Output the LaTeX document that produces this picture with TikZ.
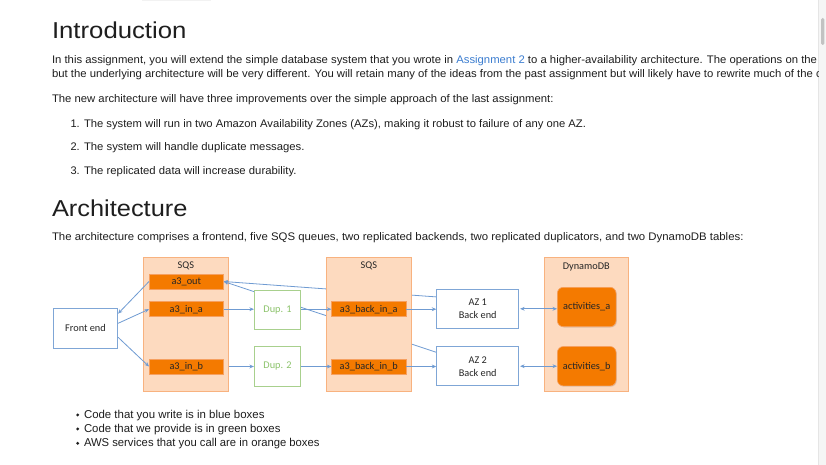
\documentclass[tikz,border=0pt]{standalone}
\usepackage{fontspec}
\setmainfont{Liberation Sans}
\newfontfamily\diagfont{Carlito}
\usetikzlibrary{arrows.meta,shadows}
\definecolor{linkblue}{HTML}{3B7DD0}
\definecolor{lineblue}{HTML}{6F9BD2}
\definecolor{boxblue}{HTML}{7FA6D6}
\definecolor{sqsfill}{HTML}{FDDABF}
\definecolor{sqsdraw}{HTML}{F8B27F}
\definecolor{qfill}{HTML}{F47A00}
\definecolor{qdraw}{HTML}{F6A060}
\definecolor{dupgreen}{HTML}{A8D08D}
\definecolor{duptext}{HTML}{8CC36B}
\definecolor{bodytext}{HTML}{1E1E1E}
\definecolor{diagtext}{HTML}{262626}
\newcommand{\fitline}[2]{\resizebox{#1pt}{\height}{#2}}
\newcommand{\bodyfnt}{\fontsize{11}{13}\selectfont}
\newcommand{\headfnt}{\fontsize{23}{26}\selectfont}
\newcommand{\bulfnt}{\fontsize{11.4}{13}\selectfont}
\newcommand{\dfnt}{\diagfont\fontsize{10.3}{13}\selectfont}
\pgfdeclarelayer{lzero}
\pgfdeclarelayer{lone}
\pgfsetlayers{lzero,lone,main}
\begin{document}
\begin{tikzpicture}[x=1pt,y=-1pt,
  txt/.style={anchor=base west, inner sep=0pt, outer sep=0pt, text=bodytext},
  container/.style={draw=sqsdraw, fill=sqsfill, line width=0.8pt, minimum width=84pt, minimum height=133.7pt, inner sep=0pt},
  clabel/.style={font=\dfnt, text=diagtext, inner sep=0pt},
  queue/.style={draw=qdraw, fill=qfill, line width=0.6pt, minimum width=74pt, minimum height=15pt, inner sep=0pt, font=\dfnt, text=diagtext},
  bluebox/.style={draw=boxblue, fill=white, line width=0.8pt, inner sep=0pt, font=\dfnt, text=diagtext, align=center},
  greenbox/.style={draw=dupgreen, fill=white, line width=0.8pt, inner sep=0pt, minimum width=46.4pt, minimum height=39.3pt, font=\dfnt, text=duptext},
  table/.style={draw=qdraw, fill=qfill, line width=0.6pt, rounded corners=6pt, minimum width=58.7pt, minimum height=39.4pt, inner sep=0pt, font=\dfnt, text=diagtext, drop shadow={shadow xshift=0.8pt, shadow yshift=-0.8pt, opacity=0.25}},
  conn/.style={draw=lineblue, line width=0.8pt},
  arr/.style={conn, -{Stealth[length=4.5pt,width=3.8pt]}},
  darr/.style={conn, {Stealth[length=4.5pt,width=3.8pt]}-{Stealth[length=4.5pt,width=3.8pt]}}
]
\useasboundingbox (0,0) rectangle (826,465);
\begin{pgfonlayer}{lzero}
\fill[white] (0,0) rectangle (826,465);
\end{pgfonlayer}

% scrollbar and top bar
\fill[black!4] (818,0) rectangle (826,465);
\draw[black!10, line width=0.5pt] (818,0) -- (818,465);
\fill[black!24, rounded corners=1.5pt] (821,18) rectangle (824.3,45);
\fill[black!5] (142,0) rectangle (211,1.3);

% text
\begin{scope}
\clip (0,0) rectangle (818,465);
\node[txt] (h1) at (52,38.3) {\fitline{134.5}{\headfnt Introduction}};
\node[txt] (p1) at (52,63.8) {\fitline{765}{\bodyfnt In this assignment, you will extend the simple database system that you wrote in \textcolor{linkblue}{Assignment 2} to a higher-availability architecture. The operations on the}};
\node[txt] (p2) at (52,77.5) {\fitline{761}{\bodyfnt but the underlying architecture will be very different. You will retain many of the ideas from the past assignment but will likely have to rewrite much of the}\bodyfnt\ code};
\node[txt] (p3) at (52,102.5) {\fitline{501.5}{\bodyfnt The new architecture will have three improvements over the simple approach of the last assignment:}};
\node[txt] (n1) at (70.5,127.3) {\bodyfnt 1.};
\node[txt] (i1) at (84,127.3) {\fitline{502}{\bodyfnt The system will run in two Amazon Availability Zones (AZs), making it robust to failure of any one AZ.}};
\node[txt] (n2) at (70.5,150.7) {\bodyfnt 2.};
\node[txt] (i2) at (84,150.7) {\fitline{220.5}{\bodyfnt The system will handle duplicate messages.}};
\node[txt] (n3) at (70.5,174.3) {\bodyfnt 3.};
\node[txt] (i3) at (84,174.3) {\fitline{212.6}{\bodyfnt The replicated data will increase durability.}};
\node[txt] (h2) at (52,216) {\fitline{135.5}{\headfnt Architecture}};
\node[txt] (p4) at (52,240.7) {\fitline{691.5}{\bodyfnt The architecture comprises a frontend, five SQS queues, two replicated backends, two replicated duplicators, and two DynamoDB tables:}};
\fill[bodytext] (77.7,414.9) circle (1.6pt);
\fill[bodytext] (77.7,428.9) circle (1.6pt);
\fill[bodytext] (77.7,443.3) circle (1.6pt);
\node[txt] (b1) at (84,418.3) {\fitline{180.5}{\bulfnt Code that you write is in blue boxes}};
\node[txt] (b2) at (84,432.4) {\fitline{196.5}{\bulfnt Code that we provide is in green boxes}};
\node[txt] (b3) at (84,446.8) {\fitline{235.5}{\bulfnt AWS services that you call are in orange boxes}};
\end{scope}

% diagram
\begin{pgfonlayer}{lzero}
\node[container, minimum width=85pt] (sqs1) at (185.8,324.2) {};
\end{pgfonlayer}
\node[clabel] (sqs1l) at (185.8,266.2) {SQS};
\node[container, minimum width=84.3pt] (sqs2) at (368.8,324.2) {};
\node[clabel] (sqs2l) at (368.8,266.2) {SQS};
\node[container] (ddb) at (586.3,324.2) {};
\node[clabel] (ddbl) at (586.3,266.7) {DynamoDB};

\node[bluebox, minimum width=64.4pt, minimum height=40pt] (fe) at (85.5,328.3) {Front end};
\node[queue] (out) at (186.3,281.5) {a3\_out};
\node[queue] (ina) at (186.3,309.2) {a3\_in\_a};
\node[queue] (inb) at (186.3,366.5) {a3\_in\_b};
\node[greenbox] (dup1) at (277.5,309.7) {Dup. 1};
\node[greenbox] (dup2) at (277.5,366.3) {Dup. 2};
\node[queue, minimum width=74.3pt] (bina) at (368.8,309.2) {a3\_back\_in\_a};
\node[queue, minimum width=74.3pt] (binb) at (368.8,366.5) {a3\_back\_in\_b};
\node[bluebox, minimum width=82pt, minimum height=39pt] (az1) at (477.7,308.8) {AZ 1\\Back end};
\node[bluebox, minimum width=82pt, minimum height=39pt] (az2) at (477.7,366.2) {AZ 2\\Back end};
\node[table] (acta) at (586.7,307) {activities\_a};
\node[table] (actb) at (586.7,366.2) {activities\_b};

\begin{pgfonlayer}{lone}
\draw[arr] ([yshift=-8pt]az1.north west) -- (out.east);
\draw[arr] ([yshift=-6pt]az2.north west) -- (out.east);
\end{pgfonlayer}

\draw[arr] (out.west) -- ([yshift=-5.7pt]fe.north east);
\draw[arr] ([yshift=5pt]fe.east) -- (ina.west);
\draw[arr] ([yshift=-9pt]fe.east) -- (inb.west);
\draw[arr] (ina.east) -- (ina.east -| dup1.west);
\draw[arr] (inb.east -| sqs1.east) -- (inb.east -| dup2.west);
\draw[arr] (dup1.east |- bina.west) -- (bina.west);
\draw[arr] (dup2.east |- binb.west) -- (binb.west);
\draw[arr] (bina.east) -- (bina.east -| az1.west);
\draw[arr] (binb.east) -- (binb.east -| az2.west);
\draw[darr] ([xshift=1pt]az1.east) -- (az1.east -| acta.west);
\draw[darr] ([xshift=1pt]az2.east) -- (az2.east -| actb.west);
\end{tikzpicture}
\end{document}
